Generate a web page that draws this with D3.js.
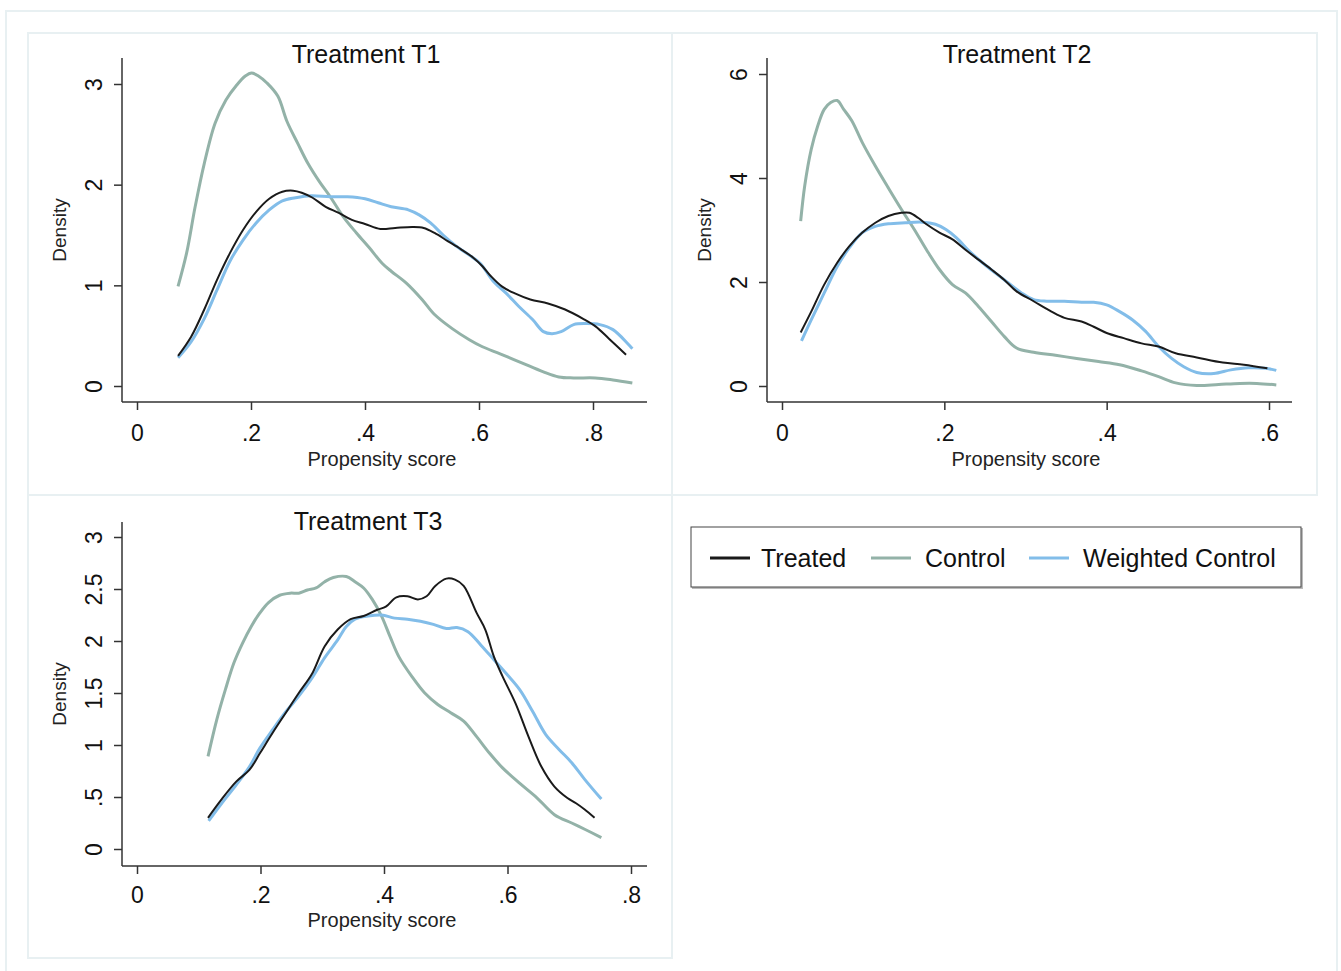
<!DOCTYPE html>
<html>
<head>
<meta charset="utf-8">
<script src="https://cdn.jsdelivr.net/npm/d3@7"></script>
<style>
  html, body { margin: 0; padding: 0; background: #ffffff; }
  svg { display: block; font-family: "Liberation Sans", Arial, Helvetica, sans-serif; }
</style>
</head>
<body>
<svg id="chart" width="1341" height="971"></svg>
<script>
// ---------------- DATA ----------------
const seriesNames = ["Treated", "Control", "Weighted Control"];
const panelTitles = ["Treatment T1", "Treatment T2", "Treatment T3"];
const xAxisTitle = "Propensity score";
const yAxisTitle = "Density";

const xTicksT1 = [0, 0.2, 0.4, 0.6, 0.8];
const yTicksT1 = [0, 1, 2, 3];
const xTicksT2 = [0, 0.2, 0.4, 0.6];
const yTicksT2 = [0, 2, 4, 6];
const xTicksT3 = [0, 0.2, 0.4, 0.6, 0.8];
const yTicksT3 = [0, 0.5, 1, 1.5, 2, 2.5, 3];

// Treatment T1  [propensity score, density]
const t1Treated = [[0.072,0.30],[0.095,0.49],[0.118,0.76],[0.14,1.05],[0.163,1.32],[0.186,1.55],[0.209,1.73],[0.232,1.86],[0.255,1.93],[0.274,1.94],[0.289,1.92],[0.308,1.87],[0.331,1.78],[0.354,1.72],[0.377,1.65],[0.40,1.61],[0.427,1.56],[0.453,1.57],[0.484,1.58],[0.503,1.57],[0.522,1.52],[0.545,1.44],[0.568,1.36],[0.591,1.27],[0.606,1.19],[0.621,1.09],[0.64,0.99],[0.663,0.92],[0.69,0.86],[0.721,0.82],[0.751,0.76],[0.782,0.67],[0.805,0.59],[0.828,0.47],[0.858,0.31]];
const t1Control = [[0.072,0.99],[0.087,1.32],[0.102,1.78],[0.118,2.21],[0.137,2.61],[0.156,2.84],[0.175,2.99],[0.19,3.08],[0.201,3.11],[0.213,3.08],[0.228,3.01],[0.247,2.88],[0.263,2.63],[0.282,2.41],[0.30,2.21],[0.32,2.03],[0.339,1.88],[0.362,1.68],[0.385,1.52],[0.408,1.37],[0.43,1.22],[0.446,1.14],[0.473,1.02],[0.50,0.86],[0.522,0.71],[0.553,0.57],[0.583,0.46],[0.606,0.39],[0.637,0.32],[0.675,0.23],[0.713,0.14],[0.74,0.09],[0.766,0.08],[0.804,0.08],[0.835,0.06],[0.869,0.03]];
const t1Weighted = [[0.072,0.28],[0.095,0.44],[0.118,0.67],[0.14,0.95],[0.163,1.24],[0.186,1.45],[0.209,1.62],[0.232,1.75],[0.255,1.84],[0.278,1.87],[0.305,1.89],[0.339,1.88],[0.369,1.88],[0.40,1.86],[0.423,1.82],[0.446,1.78],[0.476,1.75],[0.495,1.70],[0.515,1.62],[0.537,1.50],[0.56,1.39],[0.583,1.30],[0.602,1.22],[0.625,1.04],[0.648,0.92],[0.67,0.79],[0.694,0.66],[0.713,0.54],[0.728,0.52],[0.744,0.54],[0.766,0.61],[0.789,0.62],[0.812,0.61],[0.835,0.56],[0.869,0.37]];

// Treatment T2
const t2Treated = [[0.023,1.03],[0.036,1.43],[0.052,1.95],[0.068,2.37],[0.083,2.69],[0.099,2.95],[0.115,3.14],[0.131,3.27],[0.147,3.33],[0.157,3.33],[0.168,3.23],[0.178,3.11],[0.194,2.95],[0.21,2.82],[0.226,2.62],[0.242,2.43],[0.258,2.24],[0.274,2.04],[0.289,1.82],[0.31,1.63],[0.332,1.43],[0.348,1.31],[0.369,1.24],[0.384,1.14],[0.40,1.02],[0.421,0.92],[0.443,0.82],[0.464,0.76],[0.485,0.63],[0.511,0.55],[0.543,0.45],[0.569,0.41],[0.598,0.34]];
const t2Control = [[0.023,3.17],[0.028,3.85],[0.036,4.55],[0.044,5.0],[0.052,5.32],[0.06,5.45],[0.068,5.49],[0.076,5.32],[0.086,5.10],[0.099,4.68],[0.115,4.23],[0.131,3.81],[0.147,3.40],[0.163,3.01],[0.178,2.62],[0.194,2.24],[0.21,1.95],[0.226,1.79],[0.242,1.53],[0.258,1.24],[0.274,0.95],[0.289,0.73],[0.31,0.65],[0.337,0.59],[0.363,0.53],[0.39,0.47],[0.416,0.41],[0.443,0.29],[0.464,0.18],[0.485,0.06],[0.511,0.01],[0.538,0.03],[0.564,0.05],[0.585,0.05],[0.609,0.02]];
const t2Weighted = [[0.024,0.87],[0.036,1.27],[0.052,1.79],[0.068,2.30],[0.083,2.66],[0.099,2.95],[0.115,3.07],[0.131,3.12],[0.152,3.14],[0.173,3.15],[0.189,3.11],[0.202,3.01],[0.215,2.85],[0.231,2.59],[0.247,2.37],[0.263,2.17],[0.279,1.98],[0.295,1.79],[0.31,1.66],[0.326,1.63],[0.348,1.63],[0.369,1.61],[0.384,1.61],[0.40,1.56],[0.416,1.43],[0.432,1.27],[0.448,1.05],[0.464,0.76],[0.48,0.53],[0.495,0.37],[0.511,0.26],[0.532,0.24],[0.553,0.31],[0.575,0.35],[0.596,0.34],[0.609,0.30]];

// Treatment T3
const t3Treated = [[0.115,0.30],[0.136,0.47],[0.161,0.65],[0.182,0.76],[0.199,0.92],[0.22,1.12],[0.241,1.31],[0.262,1.50],[0.283,1.68],[0.304,1.95],[0.325,2.11],[0.346,2.21],[0.367,2.24],[0.389,2.30],[0.403,2.33],[0.42,2.42],[0.438,2.43],[0.455,2.40],[0.469,2.43],[0.483,2.53],[0.501,2.60],[0.515,2.59],[0.529,2.53],[0.55,2.27],[0.564,2.11],[0.578,1.85],[0.592,1.66],[0.613,1.40],[0.634,1.08],[0.655,0.79],[0.676,0.60],[0.697,0.49],[0.711,0.44],[0.725,0.38],[0.741,0.30]];
const t3Control = [[0.115,0.89],[0.129,1.24],[0.143,1.53],[0.157,1.79],[0.171,1.98],[0.185,2.14],[0.199,2.27],[0.213,2.37],[0.231,2.44],[0.248,2.46],[0.262,2.46],[0.276,2.49],[0.29,2.51],[0.304,2.57],[0.318,2.61],[0.339,2.62],[0.353,2.57],[0.367,2.51],[0.381,2.40],[0.396,2.24],[0.41,2.04],[0.424,1.85],[0.445,1.66],[0.466,1.50],[0.487,1.39],[0.508,1.31],[0.529,1.23],[0.55,1.08],[0.571,0.92],[0.592,0.78],[0.62,0.63],[0.648,0.49],[0.676,0.33],[0.704,0.25],[0.725,0.19],[0.752,0.11]];
const t3Weighted = [[0.116,0.27],[0.136,0.43],[0.161,0.62],[0.182,0.79],[0.199,0.97],[0.22,1.15],[0.241,1.32],[0.262,1.47],[0.283,1.64],[0.304,1.84],[0.325,2.01],[0.339,2.14],[0.353,2.21],[0.374,2.24],[0.396,2.25],[0.417,2.22],[0.438,2.21],[0.459,2.19],[0.48,2.16],[0.501,2.12],[0.518,2.13],[0.536,2.09],[0.557,1.96],[0.578,1.82],[0.599,1.68],[0.62,1.53],[0.641,1.32],[0.662,1.10],[0.683,0.96],[0.704,0.83],[0.725,0.67],[0.752,0.48]];

// ---------------- STYLE / LAYOUT ----------------
const colors = ["#1a1a1a", "#93b2a8", "#82bde9"];
const widths = [2, 3, 3];
const fmtTick = v => v === 0 ? "0" : d3.format("")(v).replace(/^0\./, ".");

const panels = [
  { title: panelTitles[0], xTicks: xTicksT1, yTicks: yTicksT1, series: [t1Treated, t1Control, t1Weighted],
    xr: [137, 593], xd: [0, 0.8], yr: [386, 84], yd: [0, 3],
    axL: 122, axR: 647, axT: 58, axB: 402, titleX: 366, titleY: 63, xtY: 441, xTitleX: 382, xTitleY: 466 },
  { title: panelTitles[1], xTicks: xTicksT2, yTicks: yTicksT2, series: [t2Treated, t2Control, t2Weighted],
    xr: [782, 1269], xd: [0, 0.6], yr: [386, 74], yd: [0, 6],
    axL: 767, axR: 1292, axT: 58, axB: 402, titleX: 1017, titleY: 63, xtY: 441, xTitleX: 1026, xTitleY: 466 },
  { title: panelTitles[2], xTicks: xTicksT3, yTicks: yTicksT3, series: [t3Treated, t3Control, t3Weighted],
    xr: [137, 631], xd: [0, 0.8], yr: [849, 537], yd: [0, 3],
    axL: 122, axR: 647, axT: 522, axB: 866, titleX: 368, titleY: 530, xtY: 903, xTitleX: 382, xTitleY: 927 }
];

const svg = d3.select("#chart");
const borderCol = "#e8f0f2";

// outer frame and panel frames
svg.append("rect").attr("x", 6).attr("y", 11).attr("width", 1331).attr("height", 965)
  .attr("fill", "none").attr("stroke", borderCol).attr("stroke-width", 2);
[[28, 33, 644, 462], [672, 33, 645, 462], [28, 495, 644, 463]].forEach(b => {
  svg.append("rect").attr("x", b[0]).attr("y", b[1]).attr("width", b[2]).attr("height", b[3])
    .attr("fill", "none").attr("stroke", borderCol).attr("stroke-width", 2);
});

panels.forEach(p => {
  const x = d3.scaleLinear().domain(p.xd).range(p.xr);
  const y = d3.scaleLinear().domain(p.yd).range(p.yr);
  const g = svg.append("g");

  // x axis
  const xa = g.append("g").attr("transform", `translate(0,${p.axB})`)
    .call(d3.axisBottom(x).tickValues(p.xTicks).tickSize(8).tickPadding(0).tickFormat(fmtTick));
  xa.select(".domain").remove();
  xa.selectAll(".tick line").attr("stroke", "#333").attr("stroke-width", 1.5);
  xa.selectAll(".tick text").attr("y", p.xtY - p.axB).attr("dy", null)
    .attr("font-size", 23).attr("fill", "#111");
  g.append("line").attr("x1", p.axL).attr("x2", p.axR).attr("y1", p.axB).attr("y2", p.axB)
    .attr("stroke", "#333").attr("stroke-width", 1.5);

  // y axis
  const ya = g.append("g").attr("transform", `translate(${p.axL},0)`)
    .call(d3.axisLeft(y).tickValues(p.yTicks).tickSize(8).tickFormat(fmtTick));
  ya.select(".domain").remove();
  ya.selectAll(".tick line").attr("stroke", "#333").attr("stroke-width", 1.5);
  ya.selectAll(".tick text")
    .attr("x", null).attr("dy", null)
    .attr("transform", "translate(-20,0) rotate(-90)")
    .attr("text-anchor", "middle")
    .attr("font-size", 23).attr("fill", "#111");
  g.append("line").attr("x1", p.axL).attr("x2", p.axL).attr("y1", p.axT).attr("y2", p.axB)
    .attr("stroke", "#333").attr("stroke-width", 1.5);

  // titles
  g.append("text").attr("x", p.titleX).attr("y", p.titleY).attr("text-anchor", "middle")
    .attr("font-size", 25).attr("fill", "#111").text(p.title);
  g.append("text").attr("x", p.xTitleX).attr("y", p.xTitleY).attr("text-anchor", "middle")
    .attr("font-size", 20).attr("fill", "#222").text(xAxisTitle);
  g.append("text")
    .attr("transform", `translate(${p.axL - 56},${(p.axT + p.axB) / 2}) rotate(-90)`)
    .attr("text-anchor", "middle").attr("font-size", 19).attr("fill", "#222").text(yAxisTitle);

  // curves (control first, then weighted, then treated on top)
  const line = d3.line().x(d => x(d[0])).y(d => y(d[1])).curve(d3.curveCatmullRom.alpha(0.5));
  [1, 2, 0].forEach(i => {
    g.append("path").datum(p.series[i]).attr("d", line)
      .attr("fill", "none").attr("stroke", colors[i]).attr("stroke-width", widths[i])
      .attr("stroke-linejoin", "round").attr("stroke-linecap", "butt");
  });
});

// legend
const lg = svg.append("g");
lg.append("rect").attr("x", 692).attr("y", 528).attr("width", 611).attr("height", 61)
  .attr("fill", "#bbb");
lg.append("rect").attr("x", 691).attr("y", 527).attr("width", 610).attr("height", 60)
  .attr("fill", "#fff").attr("stroke", "#444").attr("stroke-width", 1);
const legendItems = [
  { lx: 710, tx: 761 },
  { lx: 871, tx: 925 },
  { lx: 1029, tx: 1083 }
];
seriesNames.forEach((name, i) => {
  const it = legendItems[i];
  lg.append("line").attr("x1", it.lx).attr("x2", it.lx + 40).attr("y1", 558).attr("y2", 558)
    .attr("stroke", colors[i]).attr("stroke-width", 3);
  lg.append("text").attr("x", it.tx).attr("y", 567).attr("font-size", 25).attr("fill", "#111").text(name);
});
</script>
</body>
</html>
